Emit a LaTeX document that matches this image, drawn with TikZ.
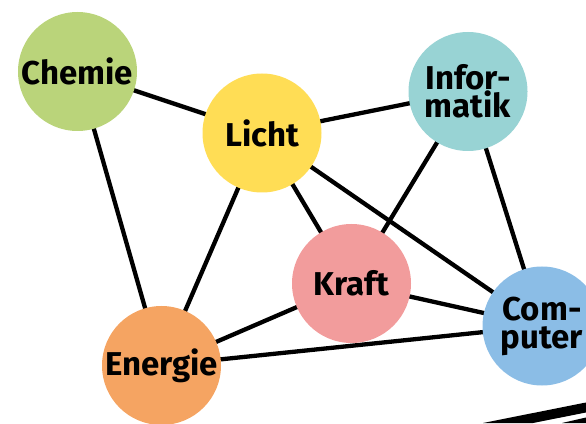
\documentclass[tikz,border=0pt]{standalone}
\usepackage{fontspec}
\setmainfont{Fira Sans}
\usetikzlibrary{backgrounds}
\definecolor{cchem}{RGB}{186,212,122}
\definecolor{clicht}{RGB}{255,221,85}
\definecolor{cinfo}{RGB}{152,211,212}
\definecolor{ckraft}{RGB}{242,156,156}
\definecolor{cenergie}{RGB}{245,164,98}
\definecolor{ccomp}{RGB}{139,189,230}
\tikzset{
  topic/.style={circle, minimum size=119pt, inner sep=0pt, draw=none, align=center,
    font=\fontsize{33}{28}\selectfont\bfseries},
  link/.style={line width=4.3pt, black}
}
\begin{document}
\begin{tikzpicture}[x=1pt,y=1pt]
\useasboundingbox (0,0) rectangle (586,423);
\clip (0,0) rectangle (586,423);
\node[topic, fill=cchem] (chem) at (77.5,351.5) {Chemie};
\node[topic, fill=clicht] (licht) at (262,290) {Licht};
\node[topic, fill=cinfo] (info) at (468,331.5) {Infor-\\matik};
\node[topic, fill=ckraft] (kraft) at (351.5,139.5) {Kraft};
\node[topic, fill=cenergie] (energie) at (161.5,57.5) {Energie};
\node[topic, fill=ccomp] (comp) at (542,97) {Com-\\puter};
\begin{pgfonlayer}{background}
\draw[link] (chem.center) -- (licht.center);
\draw[link] (chem.center) -- (energie.center);
\draw[link] (licht.center) -- (info.center);
\draw[link] (licht.center) -- (energie.center);
\draw[link] (licht.center) -- (kraft.center);
\draw[link] (licht.center) -- (comp.center);
\draw[link] (info.center) -- (kraft.center);
\draw[link] (info.center) -- (comp.center);
\draw[link] (kraft.center) -- (energie.center);
\draw[link] (kraft.center) -- (comp.center);
\draw[link] (energie.center) -- (comp.center);
\end{pgfonlayer}
\fill[black] (483,0) -- (586,20.5) -- (586,10.5) -- (533,0) -- cycle;
\fill[black] (562,0) -- (586,5.5) -- (586,0) -- cycle;
\end{tikzpicture}
\end{document}
